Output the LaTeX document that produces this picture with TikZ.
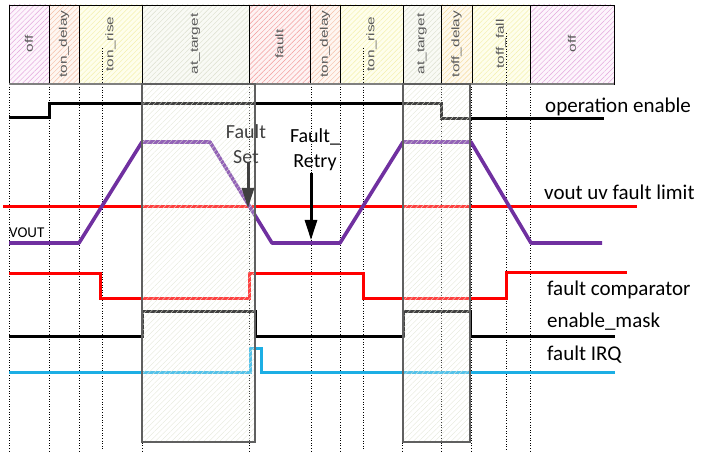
\documentclass[tikz,border=0pt]{standalone}
\usepackage{fontspec}
\setmainfont{Carlito}
\newfontfamily\hdrfont{Liberation Sans}
\usetikzlibrary{patterns.meta,arrows.meta}
\definecolor{vpurple}{HTML}{7030A0}
\definecolor{vred}{HTML}{FF0000}
\definecolor{vcyan}{HTML}{1CAEE4}
\definecolor{hdrtext}{HTML}{5A5A5A}
\definecolor{boxgray}{HTML}{606060}
\definecolor{notegray}{HTML}{404040}
\definecolor{offbg}{HTML}{FDF5FC}
\definecolor{offln}{HTML}{E3A6DC}
\definecolor{peachbg}{HTML}{FEF6F1}
\definecolor{peachln}{HTML}{F4BEA6}
\definecolor{yellowbg}{HTML}{FEFEEC}
\definecolor{yellowln}{HTML}{F4F0AC}
\definecolor{greenbg}{HTML}{F9FAF5}
\definecolor{greenln}{HTML}{DCE0CE}
\definecolor{overln}{HTML}{E4E7D8}
\definecolor{redbg}{HTML}{FEF3F3}
\definecolor{redln}{HTML}{F39A9A}
\definecolor{orangebg}{HTML}{FEF9EE}
\definecolor{orangeln}{HTML}{F5DC9C}
\tikzset{
  hatchcol/.style 2 args={fill=#1, postaction={pattern color=#2, pattern={Lines[angle=45,distance=3.6pt,line width=0.45pt]}}},
  hdr/.style={font=\hdrfont\fontsize{11}{13}\selectfont, text=hdrtext, inner sep=0pt, rotate=90, xscale=1.4},
  guide/.style={line width=0.8pt, dash pattern=on 1pt off 1.6pt},
  sig/.style={line width=3pt},
  lbl/.style={font=\fontsize{21}{25}\selectfont, anchor=west, inner sep=0pt},
  note/.style={font=\fontsize{20}{25}\selectfont, align=center, inner sep=0pt},
  flag/.style={line width=3pt, -{Triangle[width=12pt,length=20pt]}}
}
\begin{document}
\begin{tikzpicture}[x=1pt,y=-1pt]
\useasboundingbox (0,0) rectangle (710,457);
% guide lines
\foreach \x in {9,49,79,142,249,311,340,402,441,471,530}
  \draw[guide] (\x,84) -- (\x,451);
\draw[guide] (102,48) -- (102,451);
\draw[guide] (363,48) -- (363,451);
\draw[guide] (506,33) -- (506,451);
% header columns
\foreach \a/\b/\txt/\bg/\ln [count=\i] in {
  9/49/off/offbg/offln,
  49/79/ton\_delay/peachbg/peachln,
  79/142/ton\_rise/yellowbg/yellowln,
  142/249/at\_target/greenbg/greenln,
  249/310/fault/redbg/redln,
  310/340/ton\_delay/peachbg/peachln,
  340/403/ton\_rise/yellowbg/yellowln,
  403/441/at\_target/greenbg/greenln,
  441/472/toff\_delay/orangebg/orangeln,
  472/530/toff\_fall/yellowbg/yellowln,
  530/614/off/offbg/offln}
{
  \path[hatchcol={\bg}{\ln}] (\a,5) rectangle (\b,84);
  \draw[line width=0.8pt] (\a,5) rectangle (\b,84);
  \node[hdr] (h\i) at ({(\a+\b)/2},44) {\txt};
}
\draw[guide] (102,48) -- (102,84);
\draw[guide] (363,48) -- (363,84);
\draw[guide] (506,33) -- (506,84);
\draw[boxgray!80, line width=1.6pt] (9,84) -- (614,84);
% signals
\draw[sig] (9,118) -- (49,118) -- (49,104) -- (441,104) -- (441,119) -- (604,119);
\draw[sig, vred] (3,207) -- (637,207);
\draw[sig, vpurple, line width=3.6pt, line join=round] (9,243) -- (79,243) -- (142,142) -- (210,142) -- (272,243) -- (340,243) -- (403,142) -- (471,142) -- (531,243) -- (602,243);
\draw[sig, vred] (9,274) -- (100,274) -- (100,299) -- (249,299) -- (249,274) -- (363,274) -- (363,299) -- (506,299) -- (506,273) -- (627,273);
\draw[sig] (9,336) -- (142,336) -- (142,312) -- (255,312) -- (255,336) -- (403,336) -- (403,312) -- (470,312) -- (470,336) -- (615,336);
\draw[sig, vcyan] (9,372) -- (250,372) -- (250,348) -- (261,348) -- (261,372) -- (615,372);
% at_target overlays
\foreach \a/\b in {142/255, 403/470} {
  \fill[white, fill opacity=0.25] (\a,84) rectangle (\b,442);
  \fill[pattern color=overln, pattern={Lines[angle=45,distance=3.8pt,line width=0.35pt]}] (\a,84) rectangle (\b,442);
  \draw[boxgray, line width=1.2pt] (\a,84) rectangle (\b,442);
}
% labels
\node[lbl] (lopen) at (545,107) {operation enable};
\node[lbl] (llim) at (544,192) {vout uv fault limit};
\node[lbl] (lcmp) at (547,290) {fault comparator};
\node[lbl] (lmask) at (547,322) {enable\_mask};
\node[lbl] (lirq) at (547,355) {fault IRQ};
\node[font=\fontsize{15}{18}\selectfont, anchor=west, inner sep=0pt] (vlab) at (9,233) {VOUT};
% fault notes
\node[note, text=notegray] (fs) at (246,144) {Fault\\Set};
\coordinate (fsStart) at (248,162);
\coordinate (fsTip) at (248,208);
\draw[flag, notegray] (fsStart) -- (fsTip);
\node[note] (fr) at (315,150) {Fault\_\\Retry};
\coordinate (frStart) at (311,173);
\coordinate (frTip) at (311,240);
\draw[flag] (frStart) -- (frTip);
\end{tikzpicture}
\end{document}
